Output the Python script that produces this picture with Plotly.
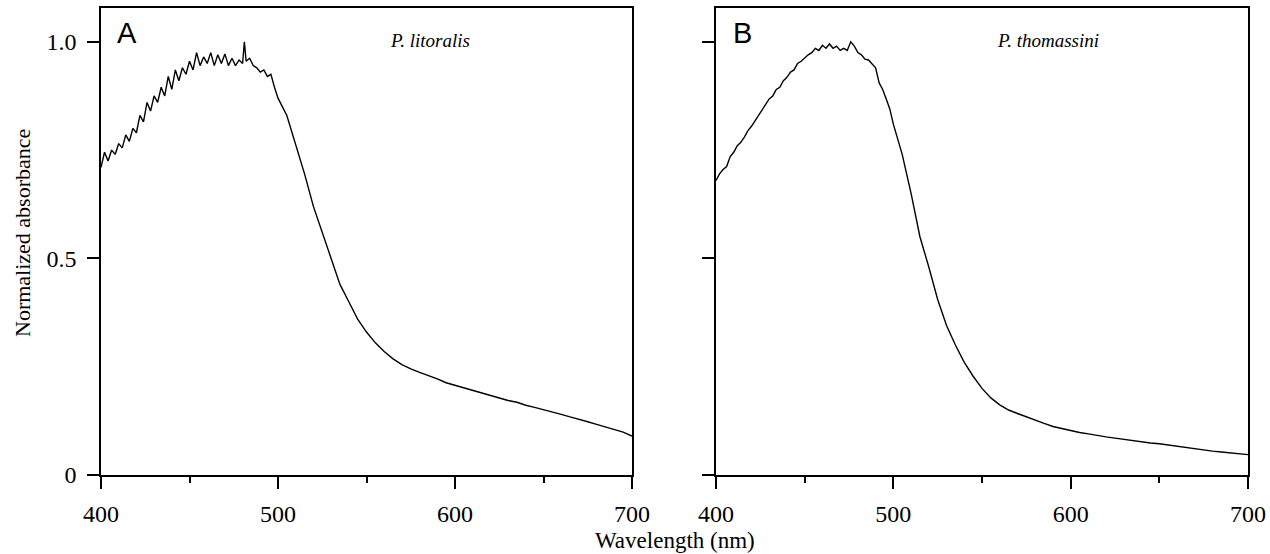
import plotly.graph_objects as go

# ---------------- data ----------------
wl_a = [400, 402, 404, 406, 408, 410, 412, 414, 416, 418,
        420, 422, 424, 426, 428, 430, 432, 434, 436, 438,
        440, 442, 444, 446, 448, 450, 452, 454, 456, 458,
        460, 462, 464, 466, 468, 470, 472, 474, 476, 478,
        480, 481, 482,
        484, 486, 488, 490, 492, 494, 496, 498, 500,
        505, 510, 515, 520, 525, 530, 535, 540, 545, 550,
        555, 560, 565, 570, 575, 580, 585, 590, 595, 600,
        605, 610, 615, 620, 625, 630, 635, 640, 645, 650,
        655, 660, 665, 670, 675, 680, 685, 690, 695, 700]
abs_a = [0.71, 0.745, 0.725, 0.75, 0.74, 0.765, 0.755, 0.785, 0.77, 0.80,
         0.79, 0.83, 0.815, 0.86, 0.84, 0.875, 0.86, 0.895, 0.875, 0.92,
         0.89, 0.935, 0.91, 0.94, 0.925, 0.955, 0.935, 0.975, 0.945, 0.965,
         0.95, 0.975, 0.945, 0.97, 0.95, 0.972, 0.945, 0.962, 0.945, 0.958,
         0.95, 1.0, 0.955,
         0.962, 0.945, 0.94, 0.93, 0.935, 0.92, 0.925, 0.895, 0.87,
         0.83, 0.765, 0.695, 0.62, 0.56, 0.495, 0.44, 0.40, 0.36, 0.33,
         0.305, 0.285, 0.268, 0.255, 0.245, 0.237, 0.23, 0.222, 0.213, 0.207,
         0.201, 0.195, 0.19, 0.183, 0.177, 0.172, 0.168, 0.161, 0.156, 0.151,
         0.146, 0.14, 0.134, 0.129, 0.123, 0.117, 0.111, 0.105, 0.099, 0.09]

wl_b = [400, 402, 404, 406, 408, 410, 412, 414, 416, 418,
        420, 422, 424, 426, 428, 430, 432, 434, 436, 438,
        440, 442, 444, 446, 448, 450, 452, 454, 456, 458,
        460, 462, 464, 466, 468, 470, 472, 474, 476, 478,
        480, 482, 484, 486, 488, 490, 492, 494, 496, 498,
        500,
        505, 510, 515, 520, 525, 530, 535, 540, 545, 550,
        555, 560, 565, 570, 575, 580, 585, 590, 595, 600,
        605, 610, 615, 620, 625, 630, 635, 640, 645, 650,
        655, 660, 665, 670, 675, 680, 685, 690, 695, 700]
abs_b = [0.68, 0.695, 0.705, 0.712, 0.735, 0.745, 0.76, 0.768, 0.78, 0.795,
         0.805, 0.818, 0.83, 0.845, 0.855, 0.868, 0.875, 0.89, 0.895, 0.91,
         0.918, 0.93, 0.935, 0.95, 0.955, 0.963, 0.97, 0.975, 0.985, 0.98,
         0.992, 0.985, 0.995, 0.985, 0.99, 0.98, 0.985, 0.98, 1.0, 0.99,
         0.975, 0.97, 0.96, 0.958, 0.948, 0.94, 0.905, 0.89, 0.868, 0.845,
         0.81,
         0.74, 0.65, 0.55, 0.48, 0.405, 0.345, 0.30, 0.26, 0.228, 0.20,
         0.178, 0.162, 0.15, 0.142, 0.134, 0.126, 0.119, 0.112, 0.107, 0.102,
         0.098, 0.095, 0.091, 0.088, 0.085, 0.082, 0.079, 0.077, 0.074, 0.072,
         0.069, 0.067, 0.064, 0.061, 0.058, 0.055, 0.053, 0.051, 0.049, 0.047]

x_ticks = [400, 500, 600, 700]
y_ticks = [0, 0.5, 1.0]
y_tick_labels = ["0", "0.5", "1.0"]
panel_letters = ["A", "B"]
species = ["P. litoralis", "P. thomassini"]
x_title = "Wavelength (nm)"
y_title = "Normalized absorbance"

# ---------------- figure ----------------
W, H = 1270, 554
SERIF = "Liberation Serif, Times New Roman, serif"
SANS = "Liberation Sans, Arial, sans-serif"

def px(p):
    return p / W

def py(p):
    return 1 - p / H

fig = go.Figure()
fig.add_trace(go.Scatter(x=wl_a, y=abs_a, mode="lines",
                         line=dict(color="black", width=1.4),
                         xaxis="x", yaxis="y", showlegend=False))
fig.add_trace(go.Scatter(x=wl_b, y=abs_b, mode="lines",
                         line=dict(color="black", width=1.4),
                         xaxis="x2", yaxis="y2", showlegend=False))

def xax(domain, anchor):
    return dict(domain=domain, anchor=anchor, range=[400, 700], automargin=False,
                tickvals=x_ticks, ticks="outside", ticklen=12, tickwidth=1.6,
                tickcolor="black", showline=True, linecolor="black", linewidth=1.6,
                mirror=True, showgrid=False, zeroline=False,
                tickfont=dict(family=SERIF, size=24, color="black"),
                ticklabelstandoff=4,
                minor=dict(dtick=50, tick0=400, ticks="outside", ticklen=6,
                           tickwidth=1.6, tickcolor="black", showgrid=False))

def yax(domain, anchor, labels):
    return dict(domain=domain, anchor=anchor, range=[0, 1.078], automargin=False,
                tickvals=y_ticks, ticktext=y_tick_labels, ticks="outside",
                ticklen=12, tickwidth=1.6, tickcolor="black",
                showticklabels=labels,
                showline=True, linecolor="black", linewidth=1.6,
                mirror=True, showgrid=False, zeroline=False,
                tickfont=dict(family=SERIF, size=24, color="black"),
                ticklabelstandoff=6)

ydom = [py(475), py(8)]
fig.update_layout(
    width=W, height=H,
    margin=dict(l=0, r=0, t=0, b=0, autoexpand=False),
    paper_bgcolor="white", plot_bgcolor="white",
    xaxis=xax([px(101), px(632)], "y"),
    yaxis=yax(ydom, "x", True),
    xaxis2=xax([px(716), px(1248)], "y2"),
    yaxis2=yax(ydom, "x2", False),
)

ann = []
ann.append(dict(text=panel_letters[0], x=px(127), y=py(33), xref="paper", yref="paper",
                xanchor="center", yanchor="middle", showarrow=False,
                font=dict(family=SANS, size=29, color="black")))
ann.append(dict(text=panel_letters[1], x=px(742), y=py(33), xref="paper", yref="paper",
                xanchor="center", yanchor="middle", showarrow=False,
                font=dict(family=SANS, size=29, color="black")))
ann.append(dict(text="<i>" + species[0] + "</i>", x=px(388), y=py(40), xref="paper", yref="paper",
                xanchor="left", yanchor="middle", showarrow=False,
                font=dict(family=SERIF, size=19, color="black")))
ann.append(dict(text="<i>" + species[1] + "</i>", x=px(995), y=py(40), xref="paper", yref="paper",
                xanchor="left", yanchor="middle", showarrow=False,
                font=dict(family=SERIF, size=19, color="black")))
ann.append(dict(text=x_title, x=px(675), y=py(540), xref="paper", yref="paper",
                xanchor="center", yanchor="middle", showarrow=False,
                font=dict(family=SERIF, size=23, color="black")))
ann.append(dict(text=y_title, x=px(22), y=py(233), xref="paper", yref="paper",
                xanchor="center", yanchor="middle", showarrow=False, textangle=-90,
                font=dict(family=SERIF, size=22, color="black")))
fig.update_layout(annotations=ann)

fig.write_html("out.html",
               config={"displayModeBar": False},
               post_script="document.body.style.margin='0px';"
                           "document.body.style.overflow='hidden';")
